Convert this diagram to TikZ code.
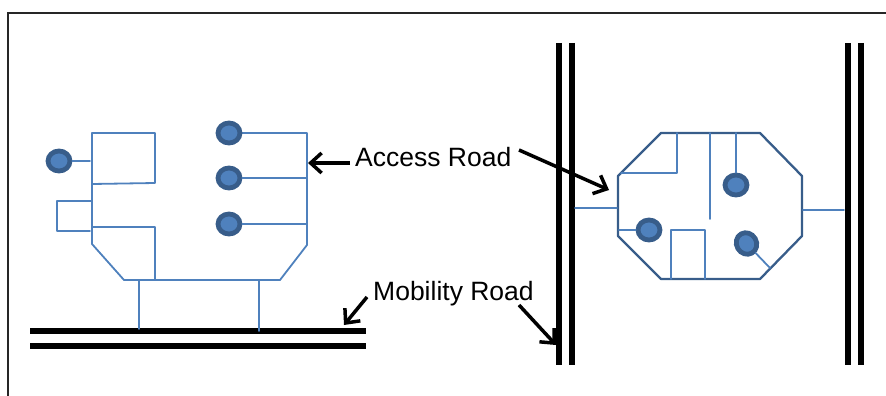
\documentclass[tikz,border=0pt]{standalone}
\usepackage{fontspec}
\setmainfont{Liberation Sans}
\usetikzlibrary{arrows.meta,shapes.geometric}
\definecolor{linkblue}{HTML}{4F81BD}
\definecolor{darkblue}{HTML}{385D8A}
\tikzset{
  x=1pt,y=-1pt,
  frameline/.style={draw=black!85,line width=1.3pt},
  road/.style={draw=black,line width=6pt},
  thin link/.style={draw=linkblue,line width=1.8pt,line cap=round,line join=round},
  hull/.style={draw=darkblue,line width=2.3pt,line join=round},
  hydrant/.style={ellipse,draw=darkblue,fill=linkblue,line width=4.8pt,minimum width=22pt,minimum height=20pt,inner sep=0pt},
  callout/.style={draw=black,line width=3.5pt,-{Straight Barb[length=11pt,width=20pt,line width=3.5pt]}},
  lab/.style={inner sep=0pt,anchor=base west,font=\fontsize{26.5pt}{30pt}\selectfont}
}
\begin{document}
\begin{tikzpicture}
\useasboundingbox (0,0) rectangle (886,396);
% frame
\coordinate (fa) at (8,396); \coordinate (fb) at (8,13); \coordinate (fc) at (886,13);
\draw[frameline] (fa) -- (fb) -- (fc);
% roads
\foreach \n/\xa/\ya/\xb/\yb in {ra/30/331/366/331,rb/30/346/366/346,rc/558.5/43/558.5/365,rd/572/43/572/365,re/847.5/43/847.5/365,rf/861/43/861/365}{
  \coordinate (\n1) at (\xa,\ya); \coordinate (\n2) at (\xb,\yb);
  \draw[road] (\n1) -- (\n2);
}
% left site
\draw[thin link] (92,133) -- (155,133) -- (155,183) -- (92,184);
\draw[thin link] (92,133) -- (92,244) -- (124,280) -- (280,280) -- (307,245) -- (307,133) -- (241,133);
\draw[thin link] (92,201) -- (57,201) -- (57,231) -- (90,231);
\draw[thin link] (92,227) -- (155,227) -- (155,280);
\draw[thin link] (139,280) -- (139,329);
\draw[thin link] (259,280) -- (259,331);
\node[hydrant] (h1) at (59,161) {};
\node[hydrant] (h2) at (229,133) {};
\node[hydrant] (h3) at (229,178) {};
\node[hydrant] (h4) at (229,224) {};
\draw[thin link] (h1) -- (90,161);
\draw[thin link] (h3) -- (307,178);
\draw[thin link] (h4) -- (307,224);
% right site
\draw[hull] (661,133) -- (760,133) -- (802,176) -- (802,236) -- (760,279) -- (661,279) -- (618,236) -- (618,176) -- cycle;
\draw[thin link] (621,173) -- (677,173) -- (677,133);
\draw[thin link] (710,133) -- (710,219);
\draw[thin link] (671,279) -- (671,230) -- (705,230) -- (705,279);
\draw[thin link] (575,208) -- (617,208);
\draw[thin link] (803,210) -- (844,210);
\node[hydrant] (h5) at (736,185) {};
\node[hydrant] (h6) at (649,230) {};
\node[hydrant,rotate=-60] (h7) at (746.5,243.5) {};
\coordinate (t5) at (736,133); \coordinate (t6) at (619,230); \coordinate (t7) at (770,268);
\draw[thin link] (t5) -- (h5);
\draw[thin link] (t6) -- (h6);
\draw[thin link] (h7) -- (t7);
% labels and callouts
\node[lab] (access) at (355,166) {Access Road};
\node[lab] (mobility) at (373,300) {Mobility Road};
\coordinate (a1) at (350,163); \coordinate (a2) at (308,163);
\coordinate (b1) at (519,150); \coordinate (b2) at (609,190);
\coordinate (c1) at (367,297); \coordinate (c2) at (344,325);
\coordinate (d1) at (519,305); \coordinate (d2) at (556,345);
\draw[callout] (a1) -- (a2);
\draw[callout] (b1) -- (b2);
\draw[callout] (c1) -- (c2);
\draw[callout] (d1) -- (d2);
\end{tikzpicture}
\end{document}
